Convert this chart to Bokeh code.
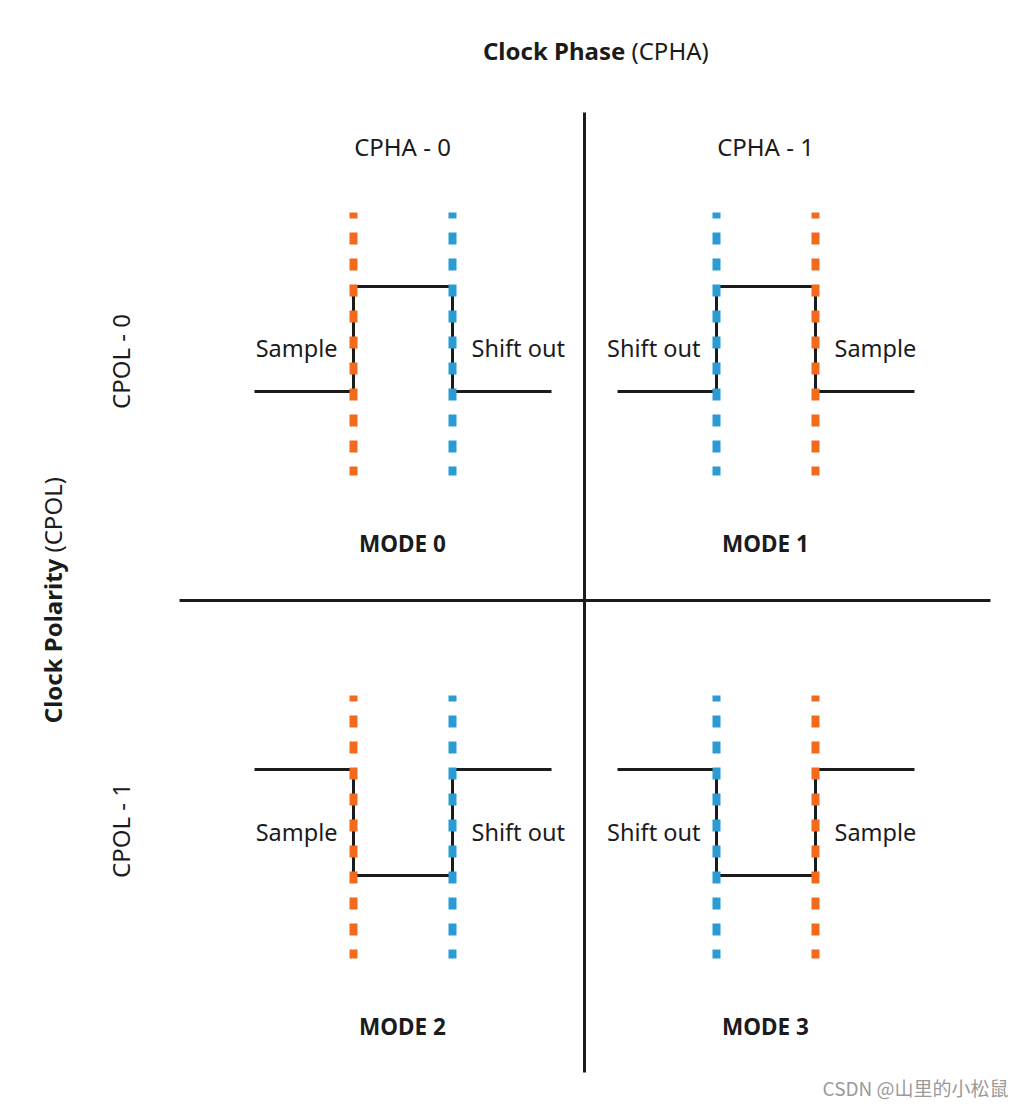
from bokeh.plotting import figure
from bokeh.models import Range1d
from bokeh.core.properties import value
from bokeh.embed import file_html
from bokeh.resources import INLINE

# ---- data ----
modes = ["MODE 0", "MODE 1", "MODE 2", "MODE 3"]
cpol = [0, 0, 1, 1]
cpha = [0, 1, 0, 1]
cpha_labels = ["CPHA - 0", "CPHA - 1"]
cpol_labels = ["CPOL - 0", "CPOL - 1"]
edge_names = {0: ["Sample", "Shift out"], 1: ["Shift out", "Sample"]}
wave_t = [0, 1, 1, 2, 2, 3]          # clock time steps
wave_phase = [0, 0, 1, 1, 0, 0]      # 0 = idle level, 1 = active level
edge_t = [1, 2]                      # leading / trailing edge
x_title_bold, x_title_rest = "Clock Phase ", "(CPHA)"
y_title_bold, y_title_rest = "Clock Polarity ", "(CPOL)"
watermark = "CSDN @山里的小松鼠"

# ---- layout (page pixels) ----
W, H = 1024, 1106
col_x0 = [254, 617]
col_center = [402, 765]
t_step = 99
row_high = [286, 769]
row_low = [391, 875]
row_dash = [(212, 475), (695, 958)]
row_label_y = [347, 831]
row_mode_y = [543, 1026]
row_cpol_y = [361, 830]

ORANGE = "#F26B1C"
BLUE = "#2A9BD3"
INK = "#1b1b1b"
FONT = "Noto Sans"

p = figure(width=W, height=H, output_backend="svg", toolbar_location=None,
           x_range=Range1d(0, W), y_range=Range1d(H, 0),
           min_border=0, outline_line_color=None)
p.axis.visible = False
p.grid.visible = False
p.background_fill_color = "white"
p.border_fill_color = "white"

# quadrant dividers
p.line([584, 584], [112, 1072], line_color=INK, line_width=3)
p.line([179, 990], [600, 600], line_color=INK, line_width=3)

for i, m in enumerate(modes):
    r, c = cpol[i], cpha[i]
    xs = [col_x0[c] + t * t_step for t in wave_t]
    lv = [(1 - ph) if r == 1 else ph for ph in wave_phase]
    ys = [row_high[r] if l == 1 else row_low[r] for l in lv]
    p.line(xs, ys, line_color=INK, line_width=3, line_join="miter")
    names = edge_names[c]
    for k, t in enumerate(edge_t):
        color = ORANGE if names[k] == "Sample" else BLUE
        ex = col_x0[c] + t * t_step
        y0, y1 = row_dash[r]
        p.line([ex, ex], [y0, y1], line_color=color, line_width=8,
               line_dash="12 14", line_dash_offset=6, line_cap="butt")
    e1 = col_x0[c] + edge_t[0] * t_step
    e2 = col_x0[c] + edge_t[1] * t_step
    p.text([e1 - 16], [row_label_y[r]], text=[names[0]], text_align="right",
           text_baseline="middle", text_font=value(FONT), text_font_size="23.5px",
           text_color=INK)
    p.text([e2 + 19], [row_label_y[r]], text=[names[1]], text_align="left",
           text_baseline="middle", text_font=value(FONT), text_font_size="23.5px",
           text_color=INK)
    p.text([col_center[c]], [row_mode_y[r]], text=[m], text_align="center",
           text_baseline="middle", text_font=value(FONT), text_font_size="22.5px",
           text_font_style="bold", text_color=INK)

for c, lab in enumerate(cpha_labels):
    p.text([col_center[c]], [146], text=[lab], text_align="center",
           text_baseline="middle", text_font=value(FONT), text_font_size="24px",
           text_color=INK)
for r, lab in enumerate(cpol_labels):
    p.text([120], [row_cpol_y[r]], text=[lab], text_align="center",
           text_baseline="middle", text_font=value(FONT), text_font_size="24px",
           text_color=INK, angle=1.5708)

# axis titles
p.text([631], [50], text=[x_title_bold], text_align="right", text_baseline="middle",
       text_font=value(FONT), text_font_size="24px", text_font_style="bold",
       text_color=INK)
p.text([631], [50], text=[x_title_rest], text_align="left", text_baseline="middle",
       text_font=value(FONT), text_font_size="24px", text_color=INK)
p.text([52], [552], text=[y_title_bold], text_align="right", text_baseline="middle",
       text_font=value(FONT), text_font_size="24px", text_font_style="bold",
       text_color=INK, angle=1.5708)
p.text([52], [552], text=[y_title_rest], text_align="left", text_baseline="middle",
       text_font=value(FONT), text_font_size="24px", text_color=INK, angle=1.5708)

p.text([1008], [1087], text=[watermark], text_align="right", text_baseline="middle",
       text_font=value("Noto Sans CJK SC"), text_font_size="19px",
       text_color="#9a9a9a")

open("out.html", "w").write(file_html(p, INLINE))
